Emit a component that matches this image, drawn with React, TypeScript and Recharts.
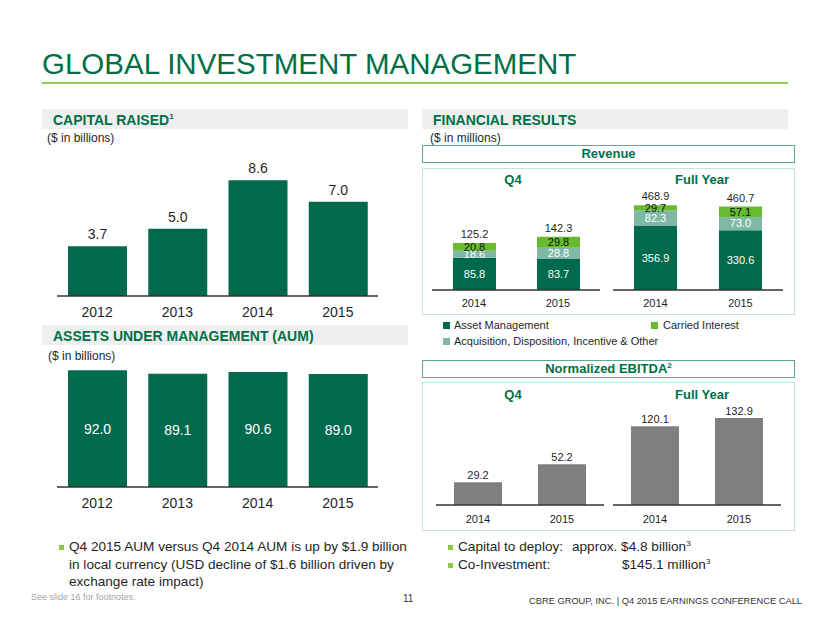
import { Bar, BarChart, LabelList, XAxis, YAxis } from "recharts";
import type { CSSProperties, ReactNode } from "react";

// ---- data ----
const years = ["2012", "2013", "2014", "2015"];
const capitalRaised = [3.7, 5.0, 8.6, 7.0];
const aumValues = [92.0, 89.1, 90.6, 89.0];

const periods = ["2014", "2015"];
const q4AssetMgmt = [85.8, 83.7];
const q4Acquisition = [18.6, 28.8];
const q4Carried = [20.8, 29.8];
const fyAssetMgmt = [356.9, 330.6];
const fyAcquisition = [82.3, 73.0];
const fyCarried = [29.7, 57.1];

const q4Ebitda = [29.2, 52.2];
const fyEbitda = [120.1, 132.9];

// ---- style ----
const FONT = "'Liberation Sans', Arial, Helvetica, sans-serif";
const GREEN = "#006F47";
const AM = "#006A4D";
const ACQ = "#80B8A6";
const CI = "#67BB2F";
const GRAY = "#7F7F7F";
const AXIS = "#333333";
const TEXT = "#1F1F1F";

const fmt = (v: unknown) => Number(v).toFixed(1);

const single = (cats: string[], vals: number[]) => cats.map((c, i) => ({ year: c, value: vals[i] }));

const stacked = (am: number[], acq: number[], ci: number[]) =>
  periods.map((p, i) => ({
    year: p,
    am: am[i],
    acq: acq[i],
    ci: ci[i],
    total: am[i] + acq[i] + ci[i],
  }));

type SimpleProps = {
  data: { year: string; value: number }[];
  left: number;
  top: number;
  width: number;
  height: number;
  axisH: number;
  marginTop: number;
  yMax: number;
  barSize: number;
  color: string;
  fontSize: number;
  tickMargin: number;
  inside?: boolean;
  labelOffset?: number;
};

function SimpleBars(p: SimpleProps) {
  return (
    <div style={{ position: "absolute", left: p.left, top: p.top }}>
      <BarChart
        width={p.width}
        height={p.height}
        data={p.data}
        margin={{ top: p.marginTop, right: 0, bottom: 0, left: 0 }}
      >
        <XAxis
          dataKey="year"
          height={p.axisH}
          axisLine={{ stroke: AXIS, strokeWidth: 1.5 }}
          tickLine={false}
          tickMargin={p.tickMargin}
          tick={{ fontSize: p.fontSize, fill: TEXT, fontFamily: FONT }}
          interval={0}
        />
        <YAxis hide domain={[0, p.yMax]} />
        <Bar dataKey="value" fill={p.color} barSize={p.barSize} isAnimationActive={false}>
          {p.inside ? (
            <LabelList
              dataKey="value"
              position="center"
              formatter={fmt}
              fill="#FFFFFF"
              fontSize={p.fontSize}
              fontFamily={FONT}
            />
          ) : (
            <LabelList
              dataKey="value"
              position="top"
              offset={p.labelOffset ?? 5}
              formatter={fmt}
              fill={TEXT}
              fontSize={p.fontSize}
              fontFamily={FONT}
            />
          )}
        </Bar>
      </BarChart>
    </div>
  );
}

type StackProps = {
  am: number[];
  acq: number[];
  ci: number[];
  left: number;
  top: number;
  width: number;
  height: number;
  marginTop: number;
  yMax: number;
};

function StackedBars(p: StackProps) {
  const data = stacked(p.am, p.acq, p.ci);
  const lbl = { fontSize: 11, fontFamily: FONT, formatter: fmt };
  return (
    <div style={{ position: "absolute", left: p.left, top: p.top }}>
      <BarChart
        width={p.width}
        height={p.height}
        data={data}
        margin={{ top: p.marginTop, right: 0, bottom: 0, left: 0 }}
      >
        <XAxis
          dataKey="year"
          height={20}
          axisLine={{ stroke: AXIS, strokeWidth: 1.5 }}
          tickLine={false}
          tickMargin={3}
          tick={{ fontSize: 11, fill: TEXT, fontFamily: FONT }}
          interval={0}
        />
        <YAxis hide domain={[0, p.yMax]} />
        <Bar dataKey="am" stackId="s" fill={AM} barSize={43} isAnimationActive={false}>
          <LabelList dataKey="am" position="center" fill="#FFFFFF" {...lbl} />
        </Bar>
        <Bar dataKey="acq" stackId="s" fill={ACQ} barSize={43} isAnimationActive={false}>
          <LabelList dataKey="acq" position="center" fill="#FFFFFF" {...lbl} />
        </Bar>
        <Bar dataKey="ci" stackId="s" fill={CI} barSize={43} isAnimationActive={false}>
          <LabelList dataKey="ci" position="center" fill="#111111" {...lbl} />
          <LabelList dataKey="total" position="top" offset={5} fill={TEXT} {...lbl} />
        </Bar>
      </BarChart>
    </div>
  );
}

const abs = (s: CSSProperties): CSSProperties => ({ position: "absolute", ...s });

function SectionHeader({ left, top, children }: { left: number; top: number; children: ReactNode }) {
  return (
    <div
      style={abs({
        left,
        top,
        width: 366,
        height: 20,
        background: "#EFEFEF",
        color: GREEN,
        fontWeight: "bold",
        fontSize: 14,
        lineHeight: "20px",
        paddingLeft: 11,
        paddingTop: 1,
        boxSizing: "border-box",
      })}
    >
      {children}
    </div>
  );
}

function BoxHeader({ top, children }: { top: number; children: ReactNode }) {
  return (
    <div
      style={abs({
        left: 422,
        top,
        width: 373,
        height: 18,
        border: "1.5px solid #5FA88D",
        boxSizing: "border-box",
        color: GREEN,
        fontWeight: "bold",
        fontSize: 13,
        lineHeight: "15px",
        textAlign: "center",
      })}
    >
      {children}
    </div>
  );
}

function PanelTitles({ top }: { top: number }) {
  const st: CSSProperties = { color: GREEN, fontWeight: "bold", fontSize: 13, lineHeight: "16px", width: 120, textAlign: "center" };
  return (
    <>
      <div style={abs({ ...st, left: 513 - 60, top })}>Q4</div>
      <div style={abs({ ...st, left: 702 - 60, top })}>Full Year</div>
    </>
  );
}

const sq = (c: string, size: number): CSSProperties => ({ width: size, height: size, background: c });

export default function App() {
  return (
    <div
      style={{
        position: "absolute",
        left: 0,
        top: 0,
        width: 830,
        height: 623,
        background: "#FFFFFF",
        fontFamily: FONT,
        color: TEXT,
        overflow: "hidden",
      }}
    >
      {/* title */}
      <div style={abs({ left: 42, top: 49, fontSize: 29.5, lineHeight: "29.5px", color: GREEN, whiteSpace: "nowrap" })}>
        GLOBAL INVESTMENT MANAGEMENT
      </div>
      <div style={abs({ left: 42, top: 82, width: 746, height: 1.5, background: "#92D050" })} />

      {/* left column */}
      <SectionHeader left={42} top={109}>
        CAPITAL RAISED<sup style={{ fontSize: 8, verticalAlign: "top", lineHeight: "14px" }}>1</sup>
      </SectionHeader>
      <div style={abs({ left: 47, top: 130.5, fontSize: 12, lineHeight: "14px" })}>($ in billions)</div>
      <SimpleBars
        data={single(years, capitalRaised)}
        left={57}
        top={150}
        width={321}
        height={174}
        axisH={28}
        marginTop={11.5}
        yMax={10}
        barSize={59}
        color={AM}
        fontSize={14}
        tickMargin={5}
        labelOffset={7}
      />

      <SectionHeader left={42} top={325}>
        ASSETS UNDER MANAGEMENT (AUM)
      </SectionHeader>
      <div style={abs({ left: 48, top: 348.5, fontSize: 12, lineHeight: "14px" })}>($ in billions)</div>
      <SimpleBars
        data={single(years, aumValues)}
        left={57}
        top={355}
        width={321}
        height={160}
        axisH={28}
        marginTop={5}
        yMax={100}
        barSize={59}
        color={AM}
        fontSize={14}
        tickMargin={5}
        inside
      />

      {/* right column */}
      <SectionHeader left={422} top={109}>
        FINANCIAL RESULTS
      </SectionHeader>
      <div style={abs({ left: 430, top: 130.5, fontSize: 12, lineHeight: "14px" })}>($ in millions)</div>

      <BoxHeader top={145}>Revenue</BoxHeader>
      <div style={abs({ left: 422, top: 168, width: 373, height: 147, border: "1px solid #C9E3D8", boxSizing: "border-box" })} />
      <PanelTitles top={172} />
      <StackedBars am={q4AssetMgmt} acq={q4Acquisition} ci={q4Carried} left={432} top={185} width={168} height={125} marginTop={11.25} yMax={250} />
      <StackedBars am={fyAssetMgmt} acq={fyAcquisition} ci={fyCarried} left={613} top={170} width={170} height={140} marginTop={11.4} yMax={600} />

      {/* legend */}
      <div style={abs({ left: 443, top: 319, display: "flex", alignItems: "center", gap: 4, fontSize: 11, lineHeight: "13px" })}>
        <div style={sq(AM, 7)} />
        <span>Asset Management</span>
      </div>
      <div style={abs({ left: 651, top: 319, display: "flex", alignItems: "center", gap: 5, fontSize: 11, lineHeight: "13px" })}>
        <div style={sq(CI, 7)} />
        <span>Carried Interest</span>
      </div>
      <div style={abs({ left: 443, top: 335, display: "flex", alignItems: "center", gap: 4, fontSize: 11, lineHeight: "13px" })}>
        <div style={sq(ACQ, 7)} />
        <span>Acquisition, Disposition, Incentive &amp; Other</span>
      </div>

      <BoxHeader top={360}>
        Normalized EBITDA<sup style={{ fontSize: 8, verticalAlign: "top", lineHeight: "10px" }}>2</sup>
      </BoxHeader>
      <div style={abs({ left: 422, top: 382, width: 373, height: 149, border: "1px solid #C9E3D8", boxSizing: "border-box" })} />
      <PanelTitles top={387} />
      <SimpleBars
        data={single(periods, q4Ebitda)}
        left={436}
        top={415}
        width={168}
        height={110}
        axisH={20}
        marginTop={12}
        yMax={100}
        barSize={48}
        color={GRAY}
        fontSize={11}
        tickMargin={4}
        labelOffset={3}
      />
      <SimpleBars
        data={single(periods, fyEbitda)}
        left={613}
        top={395}
        width={168}
        height={130}
        axisH={20}
        marginTop={11.7}
        yMax={150}
        barSize={48}
        color={GRAY}
        fontSize={11}
        tickMargin={4}
        labelOffset={3}
      />

      {/* bullets */}
      <div style={abs({ left: 59, top: 545, ...sq("#8CC63F", 5) })} />
      <div style={abs({ left: 69, top: 538, fontSize: 13.6, lineHeight: "17.5px", whiteSpace: "nowrap" })}>
        Q4 2015 AUM versus Q4 2014 AUM is up by $1.9 billion
        <br />
        in local currency (USD decline of $1.6 billion driven by
        <br />
        exchange rate impact)
      </div>

      <div style={abs({ left: 448, top: 545, ...sq("#8CC63F", 5) })} />
      <div style={abs({ left: 448, top: 563, ...sq("#8CC63F", 5) })} />
      <div style={abs({ left: 458, top: 538, fontSize: 13.6, lineHeight: "17.5px", whiteSpace: "nowrap" })}>Capital to deploy:</div>
      <div style={abs({ left: 572, top: 538, fontSize: 13.6, lineHeight: "17.5px", whiteSpace: "nowrap" })}>
        approx. $4.8 billion<sup style={{ fontSize: 8, verticalAlign: "top", lineHeight: "12px" }}>3</sup>
      </div>
      <div style={abs({ left: 458, top: 556, fontSize: 13.6, lineHeight: "17.5px", whiteSpace: "nowrap" })}>Co-Investment:</div>
      <div style={abs({ left: 622, top: 556, fontSize: 13.6, lineHeight: "17.5px", whiteSpace: "nowrap" })}>
        $145.1 million<sup style={{ fontSize: 8, verticalAlign: "top", lineHeight: "12px" }}>3</sup>
      </div>

      {/* footer */}
      <div style={abs({ left: 31, top: 591, fontSize: 9, lineHeight: "12px", color: "#A6A6A6" })}>See slide 16 for footnotes.</div>
      <div style={abs({ left: 403, top: 593, fontSize: 10, lineHeight: "12px", color: "#333333" })}>11</div>
      <div style={abs({ right: 28, top: 595, fontSize: 9.3, lineHeight: "12px", color: "#333333", whiteSpace: "nowrap" })}>
        CBRE GROUP, INC. | Q4 2015 EARNINGS CONFERENCE CALL
      </div>
    </div>
  );
}
